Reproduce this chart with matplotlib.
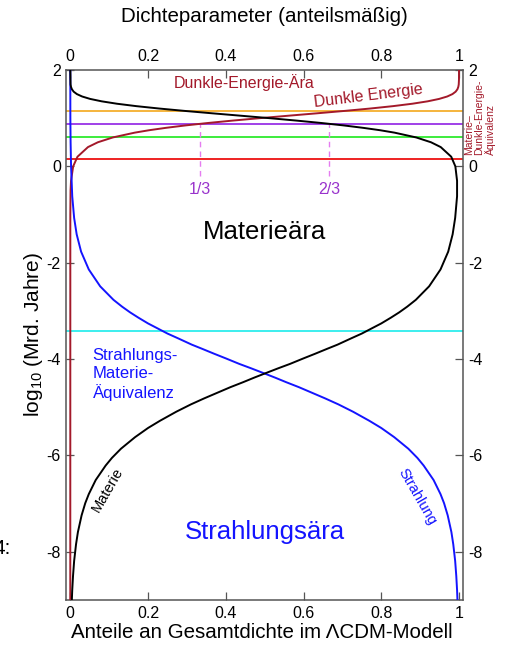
import matplotlib
matplotlib.use("Agg")
import matplotlib.pyplot as plt

plt.rcParams['font.family'] = ['Liberation Sans', 'DejaVu Sans']
plt.rcParams['axes.unicode_minus'] = False
plt.rcParams['mathtext.default'] = 'regular'

# ---- data ----
# Matter fraction vs log10(age in Gyr)
matter_logt = [-9.0, -8.795, -8.504, -8.19, -7.843, -7.59, -7.243, -6.99, -6.802, -6.51,
               -6.21, -6.051, -5.86, -5.62, -5.43, -5.28, -5.092, -4.94, -4.816, -4.71,
               -4.583, -4.48, -4.383, -4.30, -4.191, -4.10, -3.985, -3.89, -3.786, -3.70,
               -3.571, -3.47, -3.353, -3.26, -3.141, -3.03, -2.912, -2.77, -2.49, -2.14,
               -1.77, -1.41, -1.07, -0.62, -0.3, 0.0, 0.2, 0.4, 0.5,
               0.6, 0.7, 0.75, 0.8, 0.85, 0.9, 0.95, 1.0, 1.05, 1.1, 1.15, 1.2, 1.25,
               1.3, 1.35, 1.4, 1.45, 1.5, 1.55, 1.6, 1.65, 1.7, 2.0]
matter_frac = [0.0040, 0.0050, 0.0070, 0.0099, 0.0148, 0.0196, 0.0291, 0.0385, 0.0476, 0.0654,
               0.0909, 0.1071, 0.1304, 0.1667, 0.2000, 0.2308, 0.2727, 0.3103, 0.3443, 0.3750,
               0.4118, 0.4444, 0.4737, 0.5000, 0.5349, 0.5652, 0.6000, 0.6296, 0.6610, 0.6875,
               0.7222, 0.7500, 0.7778, 0.8000, 0.8246, 0.8462, 0.8667, 0.8889, 0.9231, 0.9524,
               0.9722, 0.9836, 0.9901, 0.9950, 0.995, 0.9906, 0.980, 0.953, 0.928,
               0.890, 0.834, 0.797, 0.753, 0.703, 0.646, 0.582, 0.513, 0.4405, 0.367, 0.2955,
               0.229, 0.1698, 0.120, 0.0806, 0.051, 0.0305, 0.017, 0.0087, 0.0042, 0.0018,
               0.0007, 0.0]

# Radiation fraction
rad_logt = [-9.0, -8.795, -8.504, -8.19, -7.843, -7.59, -7.243, -6.99, -6.802, -6.51,
            -6.21, -6.051, -5.86, -5.62, -5.43, -5.28, -5.092, -4.94, -4.816, -4.71,
            -4.583, -4.48, -4.383, -4.30, -4.191, -4.10, -3.985, -3.89, -3.786, -3.70,
            -3.571, -3.47, -3.353, -3.26, -3.141, -3.03, -2.912, -2.77, -2.49, -2.14,
            -1.77, -1.41, -1.07, -0.62, 0.0, 0.5, 1.0, 2.0]
rad_frac = [0.9960, 0.9950, 0.9930, 0.9901, 0.9852, 0.9804, 0.9709, 0.9615, 0.9524, 0.9346,
            0.9091, 0.8929, 0.8696, 0.8333, 0.8000, 0.7692, 0.7273, 0.6897, 0.6557, 0.6250,
            0.5882, 0.5556, 0.5263, 0.5000, 0.4651, 0.4348, 0.4000, 0.3704, 0.3390, 0.3125,
            0.2778, 0.2500, 0.2222, 0.2000, 0.1754, 0.1538, 0.1333, 0.1111, 0.0769, 0.0476,
            0.0278, 0.0164, 0.0099, 0.0050, 0.0020, 0.0008, 0.0002, 0.0]

# Dark energy fraction
de_logt = [-9.0, -1.0, -0.5, -0.3, 0.0, 0.2, 0.4, 0.5, 0.6, 0.7, 0.75, 0.8, 0.85, 0.9,
           0.95, 1.0, 1.05, 1.1, 1.15, 1.2, 1.25, 1.3, 1.35, 1.4, 1.45, 1.5, 1.55,
           1.6, 1.65, 1.7, 1.8, 2.0]
de_frac = [0.0, 0.0001, 0.0007, 0.0019, 0.0074, 0.0185, 0.0455, 0.0709, 0.1093, 0.1659,
           0.2028, 0.2463, 0.2967, 0.3540, 0.4177, 0.4868, 0.5593, 0.6328, 0.7044, 0.7711,
           0.8302, 0.8799, 0.9194, 0.9489, 0.9696, 0.9831, 0.9913, 0.9959, 0.9982,
           0.9993, 0.9999, 1.0]

# Horizontal marker lines (log10 Gyr) and colours
hline_logt = [1.14, 0.886, 0.60, 0.153, -3.42]
hline_colors = ['#f5b43c', '#a040e8', '#3cec3c', '#ee2222', '#3ceeee']

# Vertical dashed marks at 1/3 and 2/3
frac_marks = [1/3, 2/3]
frac_labels = ['1/3', '2/3']

xticks = [0, 0.2, 0.4, 0.6, 0.8, 1]
xtick_labels = ['0', '0.2', '0.4', '0.6', '0.8', '1']
yticks = [-8, -6, -4, -2, 0, 2]

# ---- figure ----
fig = plt.figure(figsize=(5.08, 6.45), dpi=100)
ax = fig.add_axes([66.4/508, 1-600/645, (462.9-66.4)/508, 530/645])

for yv, c in zip(hline_logt, hline_colors):
    ax.axhline(yv, color=c, lw=1.4, zorder=2)

for xv in frac_marks:
    ax.plot([xv, xv], [-0.2, 0.886], color='#e57cf0', lw=1.0, ls=(0, (4, 3)), zorder=2)

DARKRED = '#a3192a'
BLUE = '#1414ff'
ax.plot(de_frac, de_logt, color=DARKRED, lw=1.4, zorder=3)
ax.plot(rad_frac, rad_logt, color=BLUE, lw=1.4, zorder=4)
ax.plot(matter_frac, matter_logt, color='black', lw=1.4, zorder=5)

ax.set_xlim(-0.01, 1.01)
ax.set_ylim(-9, 2)
ax.set_xticks(xticks)
ax.set_xticklabels(xtick_labels)
ax.set_yticks(yticks)
ax.tick_params(axis='both', direction='in', length=6, width=0.9, color='#555555',
               labelsize=11.5, top=True, right=True, labeltop=True, labelright=True)
ax.tick_params(axis='x', pad=4)
ax.tick_params(axis='y', which='both', pad=4)
for side in ax.spines.values():
    side.set_color('#555555')
    side.set_linewidth(1.1)

# texts
fig.text(264/508, 1-17/645, 'Dichteparameter (anteilsmäßig)', ha='center', va='center', fontsize=14.8)
fig.text(262/508, 1-633/645, 'Anteile an Gesamtdichte im ΛCDM-Modell', ha='center', va='center', fontsize=14.8)
fig.text(34/508, 1-335/645, r'log$_{10}$ (Mrd. Jahre)', ha='center', va='center',
         rotation=90, fontsize=15)
fig.text(11/508, 1-548/645, '4:', ha='right', va='center', fontsize=15)

ax.text(0.5, -1.36, 'Materieära', ha='center', va='center', fontsize=18.5, color='black')
ax.text(0.5, -7.59, 'Strahlungsära', ha='center', va='center', fontsize=18.5, color=BLUE)
ax.text(0.447, 1.73, 'Dunkle-Energie-Ära', ha='center', va='center', fontsize=11.5, color=DARKRED)
ax.text(0.766, 1.47, 'Dunkle Energie', ha='center', va='center', fontsize=11.5,
        color=DARKRED, rotation=7)
for xv, lab in zip(frac_marks, frac_labels):
    ax.text(xv, -0.49, lab, ha='center', va='center', fontsize=11.5, color='#9933cc')
ax.text(0.057, -4.32, 'Strahlungs-\nMaterie-\nÄquivalenz', ha='left', va='center',
        fontsize=12, color=BLUE, linespacing=1.2)
ax.text(0.097, -6.71, 'Materie', ha='center', va='center', fontsize=10.5, rotation=60,
        color='black')
ax.text(0.892, -6.86, 'Strahlung', ha='center', va='center', fontsize=10.5, rotation=-60,
        color=BLUE)
fig.text(480/508, 1-155/645, 'Materie–\nDunkle-Energie-\nÄquivalenz', ha='center', va='bottom',
         rotation=90, multialignment='left', fontsize=7.5, color=DARKRED, linespacing=1.1)

fig.savefig('out.png', dpi=100)
